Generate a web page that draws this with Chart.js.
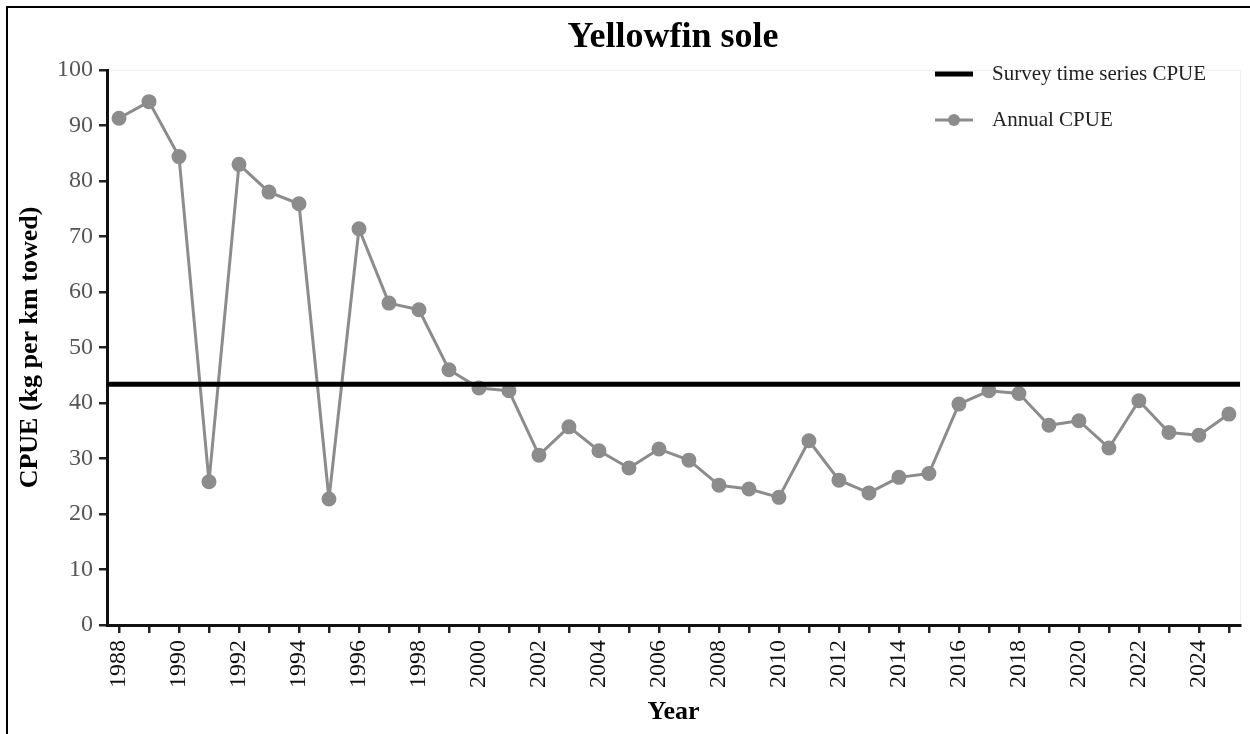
<!DOCTYPE html>
<html>
<head>
<meta charset="utf-8">
<script src="https://cdn.jsdelivr.net/npm/chart.js@4"></script>
<style>
  body { margin: 0; background: #fff; }
</style>
</head>
<body>
<canvas id="cpueChart" width="1250" height="734"></canvas>
<script>
// data
const years = [1988, 1989, 1990, 1991, 1992, 1993, 1994, 1995, 1996, 1997,
  1998, 1999, 2000, 2001, 2002, 2003, 2004, 2005, 2006, 2007,
  2008, 2009, 2010, 2011, 2012, 2013, 2014, 2015, 2016, 2017,
  2018, 2019, 2020, 2021, 2022, 2023, 2024, 2025];
const annualCpue = [91.3, 94.3, 84.4, 25.8, 83.0, 78.0, 75.9, 22.7, 71.4, 58.0,
  56.8, 46.0, 42.7, 42.2, 30.6, 35.7, 31.4, 28.3, 31.7, 29.7,
  25.2, 24.5, 23.0, 33.2, 26.1, 23.8, 26.6, 27.3, 39.8, 42.2,
  41.7, 36.0, 36.8, 31.9, 40.4, 34.7, 34.2, 38.0];
const surveyCpue = 43.4;
const yTicks = [0, 10, 20, 30, 40, 50, 60, 70, 80, 90, 100];

const xMin = 1987.6;
const xMax = 2025.37;
const serif = "'Liberation Serif', 'Times New Roman', serif";

// title, legend, frame
const decor = {
  id: 'decor',
  beforeDraw(chart) {
    const c = chart.ctx;
    c.save();
    c.fillStyle = '#fff';
    c.fillRect(0, 0, chart.width, chart.height);
    c.restore();
  },
  afterDraw(chart) {
    const c = chart.ctx;
    const a = chart.chartArea;
    c.save();
    // outer frame (top + left)
    c.strokeStyle = '#000';
    c.lineWidth = 2;
    c.beginPath();
    c.moveTo(7, chart.height);
    c.lineTo(7, 7);
    c.lineTo(chart.width, 7);
    c.stroke();

    // faint plot border
    c.strokeStyle = '#f0f0f0';
    c.lineWidth = 1;
    c.beginPath();
    c.moveTo(a.left + 2, a.top + 0.5);
    c.lineTo(a.right + 0.5, a.top + 0.5);
    c.lineTo(a.right + 0.5, a.bottom - 2);
    c.stroke();

    // title
    c.fillStyle = '#000';
    c.font = 'bold 36px ' + serif;
    c.textAlign = 'center';
    c.textBaseline = 'alphabetic';
    c.fillText('Yellowfin sole', 673, 47);

    // legend
    const ds = chart.data.datasets;
    c.font = '21px ' + serif;
    c.textAlign = 'left';
    c.textBaseline = 'middle';
    const rows = [74, 120];
    ds.forEach((d, i) => {
      const y = rows[i];
      c.strokeStyle = d.borderColor;
      c.lineWidth = d.borderWidth;
      c.beginPath();
      c.moveTo(935, y);
      c.lineTo(973, y);
      c.stroke();
      if (d.pointRadius > 0) {
        c.fillStyle = d.backgroundColor;
        c.beginPath();
        c.arc(954, y, d.pointRadius, 0, Math.PI * 2);
        c.fill();
      }
      c.fillStyle = '#222';
      c.fillText(d.label, 992, y);
    });
    c.restore();
  }
};

const ctx = document.getElementById('cpueChart').getContext('2d');

new Chart(ctx, {
  type: 'line',
  data: {
    datasets: [{
      label: 'Survey time series CPUE',
      data: [{ x: xMin, y: surveyCpue }, { x: xMax, y: surveyCpue }],
      borderColor: '#000',
      backgroundColor: '#000',
      borderWidth: 5,
      pointRadius: 0,
      order: 0
    }, {
      label: 'Annual CPUE',
      data: years.map((yr, i) => ({ x: yr, y: annualCpue[i] })),
      borderColor: '#8c8c8c',
      backgroundColor: '#8c8c8c',
      borderWidth: 3,
      borderJoinStyle: 'round',
      pointRadius: 6,
      pointHoverRadius: 6,
      tension: 0,
      order: 1
    }]
  },
  options: {
    responsive: false,
    animation: false,
    events: [],
    layout: { padding: { left: 7, top: 70, right: 10, bottom: 0 } },
    plugins: {
      legend: { display: false },
      tooltip: { enabled: false },
      title: { display: false }
    },
    scales: {
      x: {
        type: 'linear',
        min: xMin,
        max: xMax,
        afterBuildTicks: (s) => { s.ticks = years.map(v => ({ value: v })); },
        afterFit: (s) => { s.height = 109; s.paddingLeft = 0; s.paddingRight = 0; },
        grid: { display: true, drawOnChartArea: false, drawTicks: true, tickLength: 8, color: '#222', lineWidth: 2.5 },
        border: { display: true, color: '#111', width: 3 },
        ticks: {
          autoSkip: false,
          minRotation: 90,
          maxRotation: 90,
          padding: 7,
          color: '#111',
          font: { family: serif, size: 24 },
          callback: (v) => (v % 2 === 0 ? String(v) : '')
        },
        title: {
          display: true,
          text: 'Year',
          color: '#000',
          font: { family: serif, size: 26, weight: 'bold' },
          padding: { top: 0, bottom: 6 }
        }
      },
      y: {
        min: 0,
        max: 100,
        afterBuildTicks: (s) => { s.ticks = yTicks.map(v => ({ value: v })); },
        afterFit: (s) => { s.width = 100; },
        grid: { display: true, drawOnChartArea: false, drawTicks: true, tickLength: 8, color: '#222', lineWidth: 2.5 },
        border: { display: true, color: '#111', width: 3 },
        ticks: {
          padding: 6,
          color: '#555',
          font: { family: serif, size: 24 }
        },
        title: {
          display: true,
          text: 'CPUE (kg per km towed)',
          color: '#000',
          font: { family: serif, size: 26, weight: 'bold' },
          padding: { top: 8, bottom: 0 }
        }
      }
    }
  },
  plugins: [decor]
});
</script>
</body>
</html>
